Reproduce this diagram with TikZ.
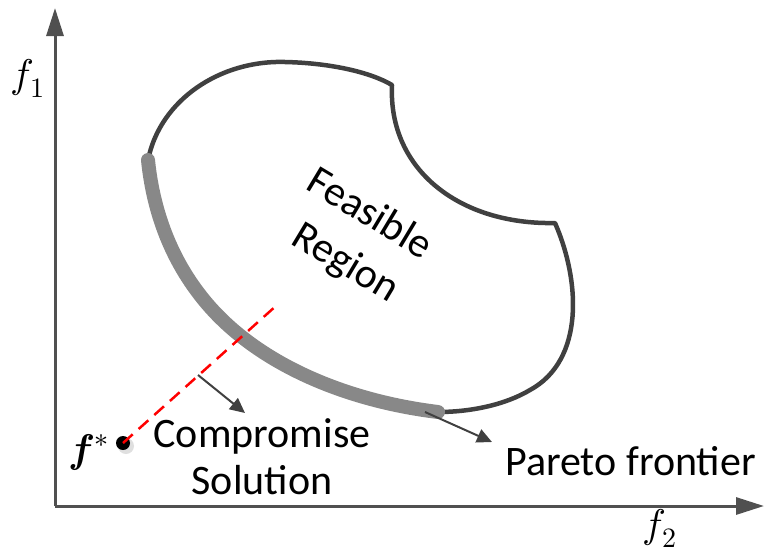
\documentclass[tikz,border=0pt]{standalone}
\usepackage{fontspec}
\usepackage{unicode-math}
\setmainfont{Carlito}
\setmathfont{Latin Modern Math}
\usetikzlibrary{arrows.meta}
\definecolor{axisgray}{HTML}{505050}
\definecolor{edgegray}{HTML}{404040}
\definecolor{frontgray}{HTML}{888888}
\tikzset{
  axis/.style={line width=3pt, draw=axisgray, -{Triangle[length=28pt,width=17pt]}},
  pointer/.style={line width=2pt, draw=edgegray, -{Triangle[length=15pt,width=14pt]}},
  label/.style={font=\fontsize{42}{47}\selectfont, inner sep=0pt},
  mathlabel/.style={font=\fontsize{40}{44}\selectfont, inner sep=0pt},
}
\begin{document}
\begin{tikzpicture}[x=1pt, y=-1pt]
\useasboundingbox (0,0) rectangle (767,552);

% axes
\coordinate (origin) at (55,506);
\coordinate (ytip) at (55,8);
\coordinate (xtip) at (764,506);
\draw[axis] (origin) -- (ytip);
\draw[axis] (origin) -- (xtip);
\node[mathlabel] (f1) at (28,78) {$f_1$};
\node[mathlabel] (f2) at (660,528) {$f_2$};

% boundary of the feasible region
\draw[edgegray, line width=4.5pt, line join=round]
  (148,160) .. controls (160,100) and (220,60) .. (285,62)
  .. controls (330,63) and (370,72) .. (392,85)
  .. controls (388,170) and (460,225) .. (555,223)
  .. controls (580,280) and (585,360) .. (530,390)
  .. controls (505,405) and (470,412) .. (438,412)
  .. controls (340,400) and (250,360) .. (200,295)
  .. controls (165,250) and (152,200) .. (148,160) -- cycle;

% Pareto frontier
\draw[frontgray, line width=14pt, line cap=round]
  (438,412) .. controls (340,400) and (250,360) .. (200,295)
  .. controls (165,250) and (152,200) .. (148,160);

\node[label, rotate=-31] (feasible) at (371,212) {Feasible};
\node[label, rotate=-31] (region) at (345,264) {Region};

% ideal point and the line towards the compromise solution
\fill[gray!25] (126,446) circle (8pt);
\node[circle, fill=black, minimum size=14pt, inner sep=0pt] (fstar) at (123,443) {};
\coordinate (rayend) at (277,305);
\draw[red, line width=2.5pt, dash pattern=on 13pt off 8pt] (fstar.center) -- (rayend);
\node[font=\fontsize{40}{44}\selectfont, inner sep=0pt, anchor=east] (fstarlabel) at (109,452) {$\symbfit{f}^{*}$};

% labels with pointers
\coordinate (cstart) at (198,375);
\coordinate (cend) at (245,413);
\draw[pointer] (cstart) -- (cend);
\node[label, align=center] (compromise) at (262,457) {Compromise\\Solution};

\coordinate (pstart) at (425,412);
\coordinate (pend) at (492,442);
\draw[pointer] (pstart) -- (pend);
\node[label, anchor=base west] (pareto) at (505,475) {Pareto frontier};
\end{tikzpicture}
\end{document}
